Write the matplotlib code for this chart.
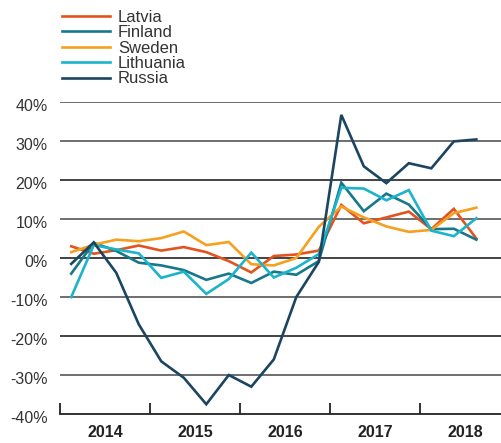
import numpy as np
import matplotlib.pyplot as plt
import matplotlib.transforms as mtransforms

plt.rcParams['font.family'] = ['Liberation Sans', 'DejaVu Sans']

# quarterly growth, 2014 Q1 .. 2018 Q3
years = ["2014", "2015", "2016", "2017", "2018"]
latvia = [3.0, 1.1, 2.0, 3.2, 1.9, 2.8, 1.5, -0.8, -3.7, 0.5, 0.9, 1.9,
          13.6, 8.9, 10.4, 11.9, 7.4, 12.6, 5.0]
finland = [-4.0, 3.9, 1.8, -1.2, -1.9, -3.1, -5.6, -4.0, -6.4, -3.5, -4.3, -0.8,
           19.3, 12.0, 16.5, 13.7, 7.4, 7.5, 4.7]
sweden = [1.5, 3.4, 4.7, 4.3, 5.1, 6.8, 3.3, 4.1, -1.6, -1.9, 0.0, 8.0,
          13.2, 10.4, 8.1, 6.7, 7.2, 11.5, 12.9]
lithuania = [-10.0, 3.3, 2.2, 1.2, -5.1, -3.5, -9.2, -5.4, 1.4, -5.0, -2.5, 1.0,
             18.0, 17.8, 14.8, 17.4, 7.0, 5.6, 10.2]
russia = [-1.5, 4.0, -3.8, -17.0, -26.5, -30.7, -37.5, -30.0, -33.0, -26.0, -10.0, -1.0,
          36.7, 23.5, 19.2, 24.3, 23.0, 29.9, 30.4]

series = [
    ("Latvia", latvia, "#e2531d"),
    ("Finland", finland, "#17788a"),
    ("Sweden", sweden, "#f5a01f"),
    ("Lithuania", lithuania, "#1bb4cb"),
    ("Russia", russia, "#1b4560"),
]

fig = plt.figure(figsize=(5.02, 4.43), dpi=100)
ax = fig.add_axes([60 / 502, 1 - 414 / 443, 442 / 502, 312 / 443])

x = np.arange(len(russia)) + 0.5
for name, vals, col in series:
    ax.plot(x, vals, color=col, lw=1.9, label=name, solid_joinstyle="miter")

ax.set_xlim(0, 19.64)
ax.set_ylim(-39, 40)

yt = np.arange(-40, 41, 10)
for v in yt:
    if v == -40:
        continue
    ax.axhline(v, color="#222222" if v in (0, -20, 20) else "#555555",
               lw=1.2, zorder=0)
ax.set_yticks(yt)
ax.set_yticklabels([f"{v}%" for v in yt], fontsize=11.5, color="#333333")
ax.tick_params(axis="y", length=0, pad=9)
off = mtransforms.ScaledTranslation(0, -3 / 100, fig.dpi_scale_trans)
for lab in ax.get_yticklabels():
    lab.set_transform(lab.get_transform() + off)

ax.set_xticks([0, 4, 8, 12, 16])
ax.set_xticklabels([])
ax.tick_params(axis="x", which="major", direction="in", length=8, width=1.3,
               color="#222222")
ax.set_xticks([2, 6, 10, 14, 18], minor=True)
ax.set_xticklabels(years, minor=True, fontsize=11.5, fontweight="bold",
                   color="#222222")
ax.tick_params(axis="x", which="minor", length=0, pad=8)

for s in ["top", "right", "left"]:
    ax.spines[s].set_visible(False)
ax.spines["bottom"].set_linewidth(1.3)
ax.spines["bottom"].set_color("#222222")

handles, labels = ax.get_legend_handles_labels()
leg = fig.legend(handles, labels, loc="upper left",
                 bbox_to_anchor=(62 / 502, 1 - 10 / 443),
                 frameon=False, fontsize=12, handlelength=2.9, handletextpad=0.45,
                 labelspacing=0.02, borderaxespad=0, borderpad=0)
for t in leg.get_texts():
    t.set_color("#333333")

fig.savefig("out.png", dpi=100)
